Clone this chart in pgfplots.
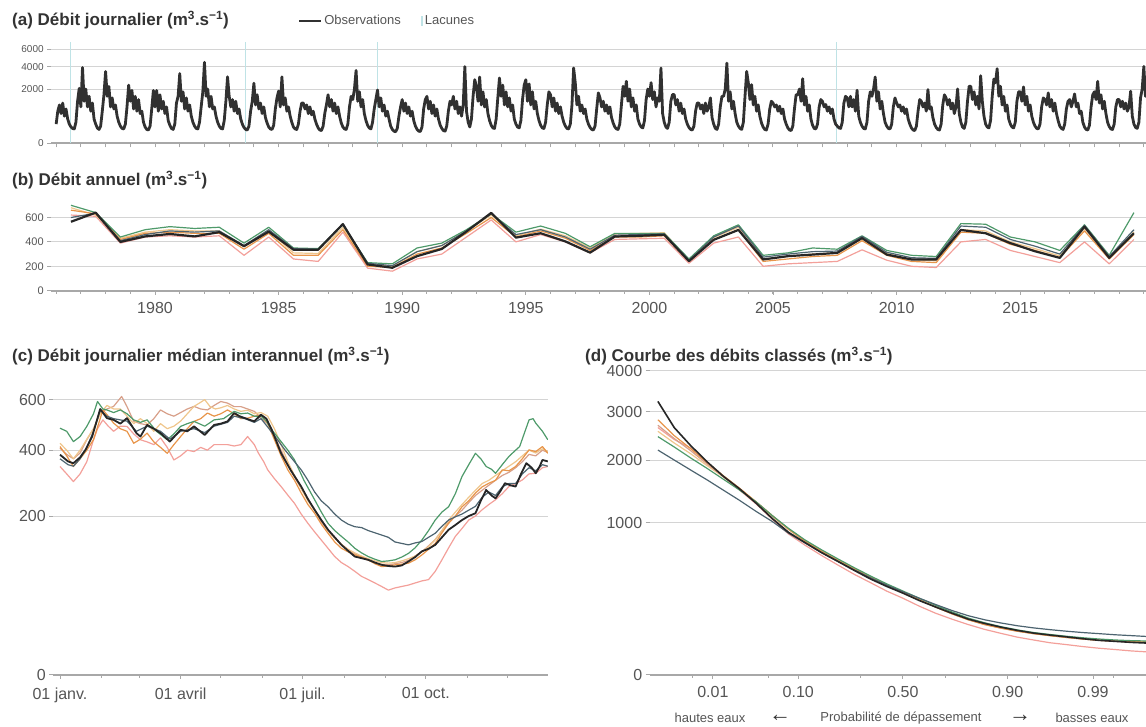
\documentclass[border=0pt]{standalone}
\usepackage{pgfplots}
\usepackage{pgfplotstable}
\pgfplotsset{compat=1.18}
\usepackage{fontspec}
\setmainfont{Liberation Sans}

\definecolor{cobs}{HTML}{262626}
\definecolor{cslate}{HTML}{4D6470}
\definecolor{cgreen}{HTML}{4E9A6A}
\definecolor{corange}{HTML}{E8954A}
\definecolor{ctan}{HTML}{EFC68C}
\definecolor{crose}{HTML}{D8A08A}
\definecolor{cpink}{HTML}{F3A09A}
\definecolor{clac}{HTML}{BFE3E6}
\definecolor{ctick}{HTML}{555555}
\definecolor{cgrid}{HTML}{D4D4D4}
\definecolor{caxis}{HTML}{A8A8A8}
\definecolor{ctitle}{HTML}{333333}

\pgfplotsset{
  panel/.style={
    scale only axis,
    anchor=south west,
    axis x line*=bottom,
    axis y line*=left,
    y axis line style={draw=none},
    x axis line style={draw=caxis, line width=2pt},
    ymajorgrids,
    major grid style={draw=cgrid, line width=1pt},
    tick style={draw=caxis, line width=1pt},
    tick align=outside,
    major tick length=4pt,
    minor tick length=3pt,
    tick label style={text=ctick},
    /pgf/number format/assume math mode=true,
    /pgf/number format/1000 sep={},
  },
  sqrty/.style={
    y coord trafo/.code={\pgfmathparse{sqrt(##1)}},
    y coord inv trafo/.code={\pgfmathparse{(##1)^2}},
  },
  model/.style={line width=1.2pt, line join=round},
  obsleg/.style={legend image code/.code={\draw[##1, line width=2pt] (0pt,0pt) -- (22pt,0pt);}},
  lacleg/.style={legend image code/.code={\draw[##1] (6pt,-5pt) -- (6pt,5pt);}},
}

% annual flows, plotted at mid hydrological year
\pgfplotstableread{
x obs slate green orange tan pink
1976.6 565 600 700 660 680 620
1977.6 640 635 640 630 620 610
1978.6 400 410 440 420 430 390
1979.6 445 460 500 470 480 440
1980.6 465 490 525 480 500 450
1981.6 445 480 510 470 490 440
1982.6 480 490 520 470 490 450
1983.6 365 370 390 340 360 290
1984.6 484 500 520 470 490 440
1985.6 336 345 350 290 310 260
1986.6 336 340 345 290 305 240
1987.6 546 545 540 500 520 480
1988.6 215 225 230 200 215 185
1989.6 188 205 220 190 200 160
1990.6 283 320 350 300 320 260
1991.6 342 370 390 350 370 300
1992.6 485 490 500 470 490 440
1993.6 638 630 630 600 620 580
1994.6 435 460 480 440 450 400
1995.6 471 500 530 490 505 460
1996.6 404 440 470 430 450 400
1997.6 312 340 360 330 350 310
1998.6 444 455 470 440 465 420
1999.6 450 460 470 440 470 425
2000.6 458 465 470 450 475 430
2001.6 242 250 260 240 250 225
2002.6 417 440 450 420 435 390
2003.6 498 530 540 500 520 440
2004.6 256 275 290 240 260 200
2005.6 283 300 310 260 280 220
2006.6 296 320 350 280 300 230
2007.6 310 325 340 290 310 240
2008.6 431 445 450 410 425 335
2009.6 296 315 330 290 305 250
2010.6 256 270 290 240 255 200
2011.6 256 265 280 230 245 190
2012.6 498 530 550 480 500 400
2013.6 471 520 545 470 490 420
2014.6 390 420 440 380 400 330
2015.6 323 365 400 330 345 280
2016.6 269 300 330 270 285 230
2017.6 525 535 540 490 510 400
2018.6 269 280 290 260 275 220
2019.6 471 500 640 460 480 420
}\annual

% flow duration curves, x = standard normal quantile of the exceedance probability
\pgfplotstableread{
z obs slate green orange tan rose pink
-3.0 3240 2190 2460 2820 2570 2700 2650
-2.8 2650 2000 2250 2480 2330 2420 2400
-2.6 2280 1820 2040 2220 2120 2180 2230
-2.4 1970 1650 1850 1960 1900 1930 1950
-2.2 1710 1480 1660 1720 1700 1710 1700
-2.0 1500 1320 1480 1510 1500 1500 1480
-1.8 1280 1160 1300 1300 1290 1300 1270
-1.6 1060 1020 1100 1100 1090 1100 1050
-1.4 880 870 930 920 915 920 860
-1.2 760 755 790 780 775 780 730
-1.0 650 650 680 665 665 665 620
-0.8 560 560 585 570 570 570 525
-0.6 475 480 500 490 490 490 440
-0.4 400 410 425 415 415 415 370
-0.2 340 350 360 350 350 350 305
0.0 290 300 305 295 295 295 255
0.2 240 255 255 245 245 245 205
0.4 200 215 210 200 200 200 165
0.6 165 180 172 162 163 162 135
0.8 135 152 140 132 133 132 110
1.0 115 132 118 110 112 110 90
1.2 99 117 101 95 96 95 75
1.4 86 105 88 83 84 83 62
1.6 76 96 78 74 75 74 53
1.8 69 89 71 67 68 67 45
2.0 63 83 65 61 62 61 40
2.2 57 78 60 56 57 56 35
2.4 52 74 56 52 53 52 31
2.6 49 70 53 50 50 49 28
2.8 46 67 51 48 48 47 25
3.0 44 64 50 47 48 46 23
3.1 43 63 49 46 47 45 22
}\fdc

\begin{document}
\begin{tikzpicture}
\path[use as bounding box] (0pt,0pt) rectangle (1146pt,727pt);

% ---------------- (a) daily flow ----------------
\begin{axis}[panel, sqrty,
  at={(51.2pt,583.7pt)}, width=1098.8pt, height=101.5pt,
  xmin=1975.8, xmax=2020.25, ymin=0, ymax=7000,
  xtick={1976,...,2020}, xticklabels={},
  ytick={0,2000,4000,6000}, yticklabels={0,2000,4000,6000},
  yticklabel style={font=\fontsize{10}{10}\selectfont},
  legend style={at={(0.222,1.205)}, anchor=west, draw=none, fill=none,
    font=\fontsize{13}{13}\selectfont, text=ctick, legend columns=2,
    /tikz/every even column/.append style={column sep=18pt}},
]
\addplot[ycomb, clac, line width=1pt, forget plot] coordinates {
  (1976.57,7000) (1983.64,7000) (1988.98,7000) (2007.57,7000)};
\addplot[color=cobs!95, line width=2.8pt, line join=round, obsleg]
  table[row sep=\\, header=false, x expr={1976+\coordindex/15}, y index=0] {
250\\700\\1000\\600\\1100\\500\\800\\400\\250\\180\\150\\140\\300\\1200\\2050\\
900\\3900\\1200\\2000\\900\\1500\\700\\1100\\400\\250\\160\\130\\200\\700\\1600\\
3500\\1500\\2200\\900\\1400\\800\\1000\\500\\300\\200\\150\\140\\250\\900\\2300\\
1200\\1900\\800\\1500\\700\\1300\\600\\700\\300\\180\\130\\120\\200\\800\\1900\\
900\\1900\\700\\1600\\800\\1200\\600\\900\\350\\220\\150\\130\\250\\1100\\1500\\
3300\\1200\\1800\\800\\1400\\700\\1000\\500\\300\\200\\150\\140\\300\\900\\1800\\
4450\\1500\\2000\\900\\1500\\800\\900\\500\\300\\200\\150\\140\\350\\1200\\3000\\
1500\\900\\1300\\700\\1200\\600\\800\\400\\250\\170\\130\\120\\200\\700\\1200\\
2450\\1000\\1600\\800\\1100\\600\\900\\450\\280\\180\\140\\130\\220\\800\\1400\\
1850\\900\\3000\\1000\\1400\\700\\900\\500\\300\\180\\140\\130\\250\\700\\1100\\
1100\\800\\1000\\600\\900\\550\\700\\400\\250\\160\\120\\110\\200\\600\\1000\\
1600\\900\\1300\\700\\1100\\600\\900\\500\\280\\180\\140\\130\\250\\900\\1500\\
1300\\2000\\3600\\1200\\1800\\900\\1300\\600\\350\\220\\160\\140\\300\\800\\1300\\
1930\\900\\1400\\700\\1000\\500\\700\\400\\200\\130\\100\\90\\150\\500\\900\\
1300\\700\\1100\\600\\900\\500\\700\\350\\200\\130\\100\\95\\180\\800\\1300\\
1500\\800\\1200\\600\\1000\\500\\800\\400\\230\\150\\110\\100\\200\\700\\1200\\
1000\\1500\\800\\1200\\600\\900\\500\\1000\\4000\\700\\300\\180\\400\\1500\\2750\\
2200\\1200\\2986\\1000\\1800\\900\\1300\\600\\350\\220\\160\\150\\400\\1400\\2900\\
1500\\2300\\1000\\1800\\900\\1400\\700\\1000\\400\\250\\180\\160\\350\\1300\\2300\\
2750\\1200\\2400\\1000\\1800\\800\\1200\\600\\350\\220\\160\\150\\300\\1000\\1800\\
1600\\900\\1400\\700\\1100\\600\\900\\500\\300\\200\\150\\140\\250\\1000\\3847\\
2500\\1000\\1500\\700\\1000\\600\\800\\400\\250\\170\\130\\120\\200\\800\\1725\\
1400\\900\\1200\\700\\1000\\600\\900\\450\\280\\180\\140\\130\\250\\1000\\2208\\
1500\\2610\\1200\\2000\\900\\1400\\700\\1000\\400\\250\\180\\160\\350\\1300\\2000\\
1500\\2500\\1300\\1800\\900\\1400\\1200\\3847\\600\\300\\180\\150\\300\\1200\\1613\\
1613\\1000\\1300\\700\\1100\\600\\800\\400\\250\\170\\130\\120\\200\\700\\1100\\
1100\\800\\1000\\600\\1100\\700\\900\\1401\\450\\250\\150\\130\\250\\900\\1500\\
1500\\2000\\4372\\1200\\1800\\800\\1200\\600\\300\\200\\150\\130\\300\\1500\\3515\\
2500\\1300\\2339\\1000\\1500\\700\\1000\\500\\280\\180\\130\\120\\250\\800\\1200\\
1100\\900\\1000\\700\\936\\600\\800\\400\\250\\160\\120\\110\\200\\800\\1600\\
1600\\2000\\1200\\2839\\1000\\1500\\700\\1000\\400\\220\\150\\140\\250\\900\\1300\\
1200\\900\\1022\\700\\900\\600\\800\\400\\250\\200\\160\\150\\300\\1100\\1500\\
1400\\900\\1500\\900\\1300\\700\\1911\\500\\300\\200\\150\\140\\300\\1200\\1800\\
1500\\2000\\2986\\1200\\1800\\800\\1200\\600\\300\\200\\150\\140\\250\\900\\1400\\
1111\\900\\1000\\700\\900\\600\\800\\400\\250\\160\\120\\110\\200\\700\\1300\\
1200\\900\\1100\\700\\1959\\800\\900\\450\\250\\170\\130\\120\\250\\1000\\1600\\
1400\\1000\\1300\\800\\1100\\600\\900\\2007\\600\\300\\180\\150\\300\\1200\\2208\\
2208\\1300\\1800\\1000\\1500\\800\\3107\\1200\\500\\250\\180\\160\\350\\1500\\2800\\
2500\\3780\\1500\\2200\\1000\\1500\\700\\1000\\400\\250\\180\\160\\300\\1200\\1800\\
1800\\1200\\2157\\1000\\1500\\700\\1000\\500\\300\\200\\150\\140\\250\\900\\1400\\
1300\\1000\\1725\\900\\1300\\700\\1100\\600\\350\\200\\150\\130\\250\\800\\1200\\
1300\\900\\1200\\1657\\900\\1100\\600\\700\\300\\180\\130\\120\\220\\900\\1600\\
1800\\1300\\2610\\1100\\1600\\800\\1200\\600\\300\\190\\140\\130\\250\\900\\1300\\
1300\\900\\1200\\800\\1100\\700\\900\\1840\\500\\250\\170\\150\\300\\1400\\2000\\
4018\\1500\\2200\\
};
\addlegendentry{Observations}
\addlegendimage{clac, line width=2pt, lacleg}
\addlegendentry{Lacunes}
\end{axis}

% ---------------- (b) annual flow ----------------
\begin{axis}[panel,
  at={(51.2pt,436.3pt)}, width=1098.8pt, height=91.5pt,
  xmin=1975.8, xmax=2020.25, ymin=0, ymax=750,
  xtick={1980,1985,...,2015}, minor xtick={1976,...,2020},
  ytick={0,200,400,600},
  yticklabel style={font=\fontsize{11}{11}\selectfont},
  xticklabel style={font=\fontsize{16}{16}\selectfont, yshift=-4pt},
]
\addplot[model, cpink] table[x=x, y=pink] {\annual};
\addplot[model, ctan] table[x=x, y=tan] {\annual};
\addplot[model, corange] table[x=x, y=orange] {\annual};
\addplot[model, cgreen] table[x=x, y=green] {\annual};
\addplot[model, cslate] table[x=x, y=slate] {\annual};
\addplot[cobs, line width=2.2pt, line join=round] table[x=x, y=obs] {\annual};
\end{axis}

% ---------------- (c) median daily flow ----------------
\begin{axis}[panel, sqrty,
  at={(53.3pt,52pt)}, width=494.5pt, height=286.6pt,
  xmin=-5, xmax=364, ymin=0, ymax=650,
  xtick={0,90,181,273}, xticklabels={01 janv.,01 avril,01 juil.,01 oct.},
  minor xtick={31,59,120,151,212,243,304,334},
  ytick={0,200,400,600}, yticklabels={0,200,400,600},
  tick label style={font=\fontsize{16}{16}\selectfont},
  xticklabel style={yshift=-5pt},
]
\addplot[model, cpink] coordinates {
(0,344)(5,320)(10,296)(15,320)(20,360)(25,438)(28,480)(32,515)(36,490)(40,470)(45,490)(50,489)(55,460)(60,438)(65,430)(70,420)(75,445)(80,410)(85,366)(90,380)(95,400)(100,395)(105,410)(110,400)(115,420)(120,420)(125,420)(130,415)(135,420)(140,450)(145,420)(148,390)(152,360)(155,333)(160,305)(165,281)(170,256)(175,233)(180,205)(185,182)(190,162)(195,144)(200,127)(205,111)(210,100)(215,93)(220,85)(225,77)(230,72)(235,67)(240,62)(245,57)(250,60)(255,62)(260,64)(265,67)(270,70)(275,72)(280,85)(285,105)(290,128)(295,152)(300,170)(305,190)(310,200)(315,216)(320,230)(325,243)(330,260)(335,281)(340,290)(345,301)(350,320)(355,322)(360,340)(364,344)};
\addplot[model, crose] coordinates {
(0,407)(5,385)(10,370)(15,390)(20,438)(25,480)(30,543)(35,560)(40,571)(46,614)(50,570)(55,509)(60,500)(65,495)(70,520)(75,556)(80,540)(85,530)(90,545)(95,560)(100,571)(105,560)(110,556)(115,575)(120,592)(125,585)(130,570)(135,570)(140,560)(145,550)(150,522)(155,500)(160,450)(165,400)(170,350)(175,310)(180,275)(185,245)(190,215)(195,185)(200,165)(205,148)(210,135)(215,124)(220,116)(225,110)(230,104)(235,100)(240,97)(245,96)(250,98)(255,100)(260,104)(265,112)(270,120)(275,132)(280,145)(285,165)(290,185)(295,200)(300,215)(305,235)(310,255)(315,270)(320,285)(325,300)(330,315)(335,325)(340,340)(345,360)(350,385)(355,380)(360,400)(364,392)};
\addplot[model, ctan] coordinates {
(0,425)(5,400)(10,370)(15,400)(20,440)(25,480)(30,540)(35,575)(40,560)(45,560)(50,530)(55,500)(60,520)(65,500)(70,470)(75,500)(80,480)(85,490)(90,510)(95,540)(100,571)(104,585)(108,600)(112,570)(116,560)(120,565)(125,575)(130,560)(135,550)(140,555)(145,540)(150,545)(155,530)(160,480)(165,420)(170,360)(175,315)(180,275)(185,240)(190,215)(195,190)(200,165)(205,148)(210,135)(215,125)(220,118)(225,112)(230,107)(235,103)(240,100)(245,99)(250,100)(255,103)(260,107)(265,112)(270,120)(275,130)(280,145)(285,165)(290,190)(295,210)(300,230)(305,250)(310,270)(315,290)(320,300)(325,315)(330,330)(335,345)(340,360)(345,380)(350,400)(355,390)(360,405)(364,395)};
\addplot[model, corange] coordinates {
(0,413)(5,380)(10,344)(15,370)(20,400)(25,438)(30,520)(32,556)(36,530)(40,502)(45,480)(50,470)(55,425)(60,440)(65,463)(70,430)(75,410)(80,389)(85,420)(90,450)(95,480)(100,509)(105,520)(110,543)(115,530)(120,540)(125,556)(130,540)(135,520)(140,522)(145,530)(150,536)(155,500)(160,438)(165,380)(170,333)(175,300)(180,262)(185,230)(190,207)(195,180)(200,159)(205,140)(210,127)(215,120)(220,114)(225,110)(230,105)(235,98)(240,93)(245,94)(250,96)(255,97)(260,99)(265,105)(270,114)(275,125)(280,137)(285,160)(290,182)(295,200)(300,224)(305,240)(310,262)(315,280)(320,291)(325,300)(330,333)(335,330)(340,344)(345,370)(350,401)(355,395)(360,413)(364,389)};
\addplot[model, cgreen] coordinates {
(0,482)(5,470)(10,431)(15,450)(20,489)(25,540)(28,592)(32,560)(35,556)(40,545)(45,556)(50,540)(55,515)(60,505)(65,515)(72,470)(80,438)(85,460)(90,489)(95,500)(100,509)(108,490)(115,515)(122,520)(130,550)(135,540)(140,543)(145,530)(150,530)(154,510)(158,476)(165,431)(170,400)(175,366)(182,300)(190,243)(195,210)(200,182)(205,165)(210,152)(215,140)(220,127)(225,118)(230,111)(235,106)(240,102)(245,103)(250,105)(255,110)(260,117)(265,128)(270,144)(275,165)(280,190)(285,210)(290,224)(295,260)(300,312)(305,350)(310,389)(314,370)(318,344)(322,335)(325,322)(330,350)(335,378)(340,400)(343,413)(347,470)(350,515)(353,520)(355,502)(360,470)(364,438)};
\addplot[model, cslate] coordinates {
(0,370)(6,350)(10,345)(15,370)(20,410)(25,470)(30,555)(35,530)(40,520)(50,510)(57,470)(65,490)(75,470)(82,440)(90,470)(100,480)(108,465)(115,490)(125,505)(130,530)(138,520)(145,505)(150,520)(156,480)(162,440)(168,400)(175,360)(180,333)(185,300)(190,265)(195,240)(200,224)(205,205)(210,190)(215,180)(220,174)(225,172)(230,165)(235,160)(240,155)(245,150)(250,140)(255,137)(260,134)(265,138)(270,141)(275,150)(280,159)(285,175)(290,190)(295,198)(300,205)(305,215)(310,225)(315,250)(320,265)(325,255)(330,280)(335,290)(340,290)(345,320)(350,340)(355,330)(360,350)(364,345)};
\addplot[cobs, line width=1.8pt, line join=round] coordinates {
(0,384)(6,361)(10,355)(15,375)(19,401)(24,450)(30,560)(35,522)(40,515)(45,500)(50,522)(57,463)(60,450)(65,495)(70,480)(75,463)(82,431)(90,476)(95,470)(100,489)(108,456)(115,495)(120,500)(125,509)(130,543)(134,530)(138,522)(145,509)(150,536)(154,520)(158,476)(165,389)(172,333)(180,281)(185,245)(190,216)(195,190)(200,167)(205,150)(210,134)(215,122)(220,111)(225,108)(230,105)(235,100)(240,96)(245,94)(250,93)(255,95)(260,102)(265,110)(270,121)(275,126)(280,134)(285,150)(290,167)(295,178)(300,190)(305,200)(310,207)(314,240)(318,271)(322,255)(325,247)(329,270)(332,291)(336,285)(340,281)(344,320)(348,355)(352,340)(355,322)(358,345)(360,366)(364,361)};
\end{axis}

% ---------------- (d) flow duration curve ----------------
\begin{axis}[panel, sqrty,
  at={(649.7pt,52pt)}, width=506.5pt, height=304pt,
  xmin=-3.1, xmax=3.1, ymin=0, ymax=4000,
  xtick={-2.3263,-1.2816,0,1.2816,2.3263},
  xticklabels={0.01,0.10,0.50,0.90,0.99},
  minor xtick={-2.5758,-1.6449,-0.5244,0.5244,1.6449,2.5758},
  ytick={0,1000,2000,3000,4000}, yticklabels={0,1000,2000,3000,4000},
  tick label style={font=\fontsize{16}{16}\selectfont},
  xticklabel style={yshift=-4pt},
]
\addplot[model, cpink] table[x=z, y=pink] {\fdc};
\addplot[model, ctan] table[x=z, y=tan] {\fdc};
\addplot[model, crose] table[x=z, y=rose] {\fdc};
\addplot[model, corange] table[x=z, y=orange] {\fdc};
\addplot[model, cgreen] table[x=z, y=green] {\fdc};
\addplot[model, cslate] table[x=z, y=slate] {\fdc};
\addplot[cobs, line width=1.6pt, line join=round] table[x=z, y=obs] {\fdc};
\end{axis}

% ---------------- titles and captions ----------------
\begin{scope}[every node/.style={anchor=west, inner sep=0pt, text=ctitle,
    font=\bfseries\fontsize{17}{17}\selectfont}]
\node at (12pt,707pt) {(a) Débit journalier (m\textsuperscript{3}.s\textsuperscript{−1})};
\node at (12pt,547pt) {(b) Débit annuel (m\textsuperscript{3}.s\textsuperscript{−1})};
\node at (12pt,371pt) {(c) Débit journalier médian interannuel (m\textsuperscript{3}.s\textsuperscript{−1})};
\node at (585pt,371pt) {(d) Courbe des débits classés (m\textsuperscript{3}.s\textsuperscript{−1})};
\end{scope}
\begin{scope}[every node/.style={inner sep=0pt, text=ctick,
    font=\fontsize{13}{13}\selectfont}]
\node at (710pt,9pt) {hautes eaux};
\node[text=ctitle, font=\bfseries\fontsize{22}{22}\selectfont] at (780pt,9pt) {←};
\node at (901pt,9pt) {Probabilité de dépassement};
\node[text=ctitle, font=\bfseries\fontsize{22}{22}\selectfont] at (1020pt,9pt) {→};
\node at (1092pt,9pt) {basses eaux};
\end{scope}
\end{tikzpicture}
\end{document}
